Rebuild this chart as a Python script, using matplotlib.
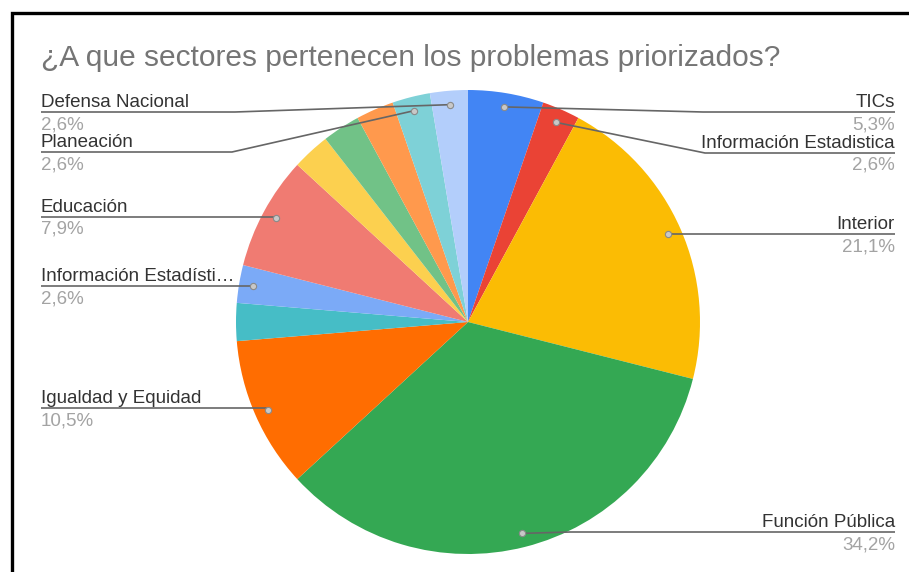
import numpy as np
import matplotlib

matplotlib.use("Agg")
import matplotlib.pyplot as plt  # noqa: E402

# data: number of prioritised problems per sector (38 total), clockwise from top
sectors = [
    "TICs", "Información Estadistica", "Interior", "Función Pública",
    "Igualdad y Equidad", "", "Información Estadísti…", "Educación",
    "", "", "", "Planeación", "Defensa Nacional",
]
counts = [2, 1, 8, 13, 4, 1, 1, 3, 1, 1, 1, 1, 1]
colors = [
    "#4285F4", "#EA4335", "#FBBC04", "#34A853", "#FF6D01", "#46BDC6",
    "#7BAAF7", "#F07B72", "#FCD04F", "#71C287", "#FF994D", "#7ED1D7", "#B3CEFB",
]
title = "¿A que sectores pertenecen los problemas priorizados?"

# label layout in pixel coords (side, underline y, elbow x)
LAYOUT = {
    "TICs": ("right", 112, 703),
    "Información Estadistica": ("right", 153, 705),
    "Interior": ("right", 234, None),
    "Función Pública": ("right", 532, 570),
    "Igualdad y Equidad": ("left", 408, None),
    "Información Estadísti…": ("left", 286, None),
    "Educación": ("left", 217, None),
    "Planeación": ("left", 152, 232),
    "Defensa Nacional": ("left", 112, 235),
}

W, H = 909, 572
CX, CY, R = 468, 322, 232
LINE_C = "#666666"
NAME_C = "#333333"
PCT_C = "#A3A3A3"
FONT = ["Liberation Sans", "DejaVu Sans"]


def Y(py):
    return H - py


fig = plt.figure(figsize=(W / 100, H / 100), dpi=100)
ax = fig.add_axes([0, 0, 1, 1])

wedges, _ = ax.pie(
    counts, colors=colors, startangle=90, counterclock=False,
    center=(CX, Y(CY)), radius=R, wedgeprops=dict(linewidth=0),
)
ax.set_xlim(0, W)
ax.set_ylim(0, H)
ax.set_aspect("equal")
ax.axis("off")

total = sum(counts)
for name, cnt, w in zip(sectors, counts, wedges):
    if not name:
        continue
    side, ly, elbow = LAYOUT[name]
    mid = np.deg2rad((w.theta1 + w.theta2) / 2)
    dx = CX + 0.94 * R * np.cos(mid)
    dy = Y(CY) + 0.94 * R * np.sin(mid)
    pct = f"{100 * cnt / total:.1f}%".replace(".", ",")
    tx = 41 if side == "left" else 895
    ex = dx if elbow is None else elbow
    ax.plot([tx, ex, dx], [Y(ly), Y(ly), dy], color=LINE_C, lw=1.2,
            solid_capstyle="butt", zorder=3)
    ax.plot(dx, dy, "o", ms=4.5, mfc="#C8C8C8", mec="#8A8A8A", mew=0.8, zorder=4)
    ha = "left" if side == "left" else "right"
    ax.text(tx, Y(ly - 5), name, ha=ha, va="baseline", fontsize=13.5,
            color=NAME_C, family=FONT)
    ax.text(tx, Y(ly + 4), pct, ha=ha, va="top", fontsize=13.5,
            color=PCT_C, family=FONT)

ax.text(41, Y(66), title, ha="left", va="baseline", fontsize=21.5,
        color="#757575", family=FONT)

# frame (only top and left edges are visible in the screenshot)
ax.plot([12, 12, W + 10], [-10, Y(13), Y(13)], color="black", lw=2.4,
        solid_joinstyle="miter", clip_on=False)

fig.savefig("out.png", dpi=100, facecolor="white")
